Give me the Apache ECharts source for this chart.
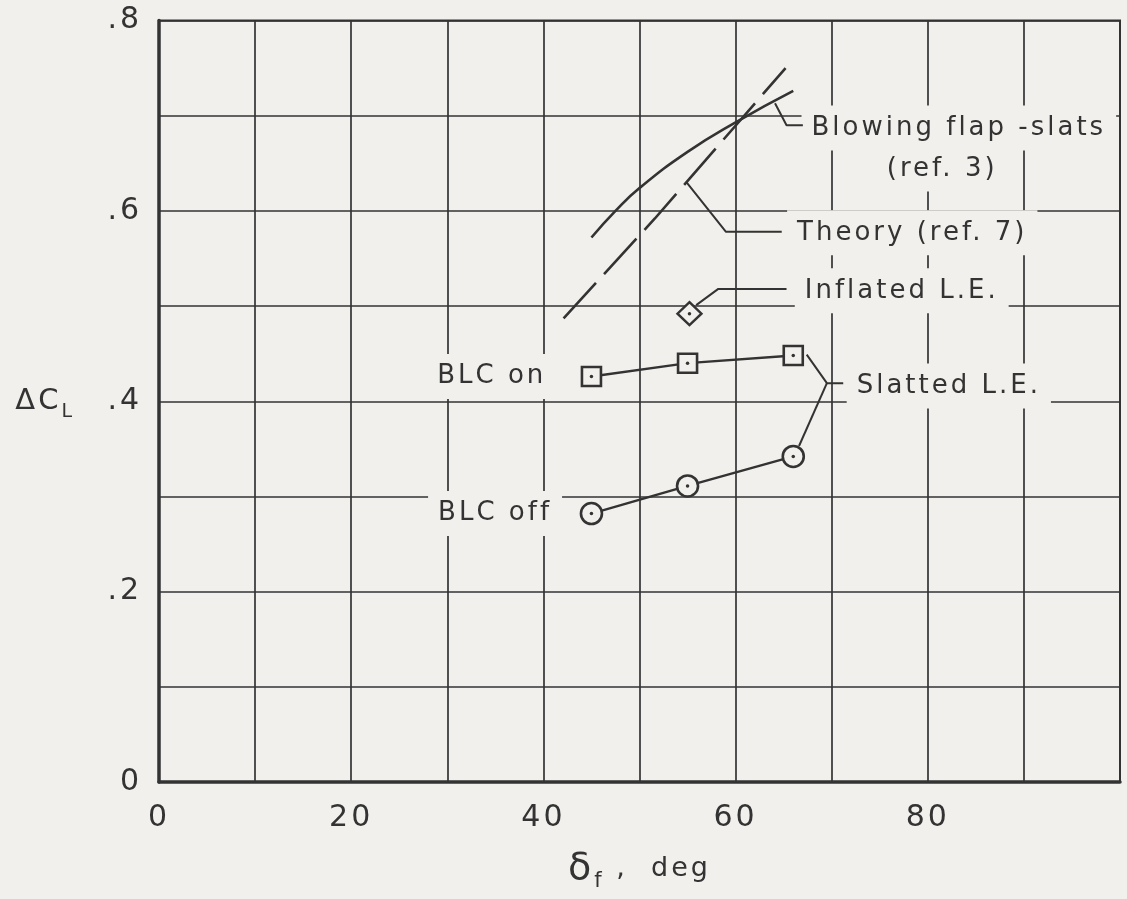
<!DOCTYPE html>
<html>
<head>
<meta charset="utf-8">
<script src="https://cdn.jsdelivr.net/npm/echarts@6/dist/echarts.min.js"></script>
<style>
html,body{margin:0;padding:0;background:#f2f0ed;}
#c{width:1127px;height:899px;}
</style>
</head>
<body>
<div id="c"></div>
<script>
// wide lettering like the original drafting font
(function(){
  var P = CanvasRenderingContext2D.prototype;
  var f = P.fillText, m = P.measureText;
  var LS = '3px';
  P.fillText = function(){ try{ this.letterSpacing = LS; }catch(e){} return f.apply(this, arguments); };
  P.measureText = function(){ try{ this.letterSpacing = LS; }catch(e){} return m.apply(this, arguments); };
})();

// ---- data ----
var xTickValues = [0, 20, 40, 60, 80];
var xTickLabels = ['0', '20', '40', '60', '80'];
var yTickValues = [0, 0.2, 0.4, 0.6, 0.8];
var yTickLabels = ['0', '.2', '.4', '.6', '.8'];

var blcOnX  = [45, 55, 66];
var blcOnY  = [0.426, 0.440, 0.448];
var blcOffX = [45, 55, 66];
var blcOffY = [0.282, 0.311, 0.342];
var inflatedX = [55.2];
var inflatedY = [0.492];

var blowingX = [45.0, 47.5, 50.0, 55.0, 60.0, 66.0];
var blowingY = [0.572, 0.600, 0.624, 0.662, 0.693, 0.726];
var theoryX  = [42.1, 51.6, 65.2];
var theoryY  = [0.487, 0.592, 0.750];

// leader lines (data coordinates)
var blowingLeader  = [[64.1, 0.713], [65.3, 0.690], [67.0, 0.690]];
var theoryLeader   = [[54.9, 0.630], [59.0, 0.578], [64.8, 0.578]];
var inflatedLeader = [[55.9, 0.501], [58.2, 0.518], [65.3, 0.518]];
var slattedLeaderA = [[67.4, 0.449], [69.5, 0.419], [71.2, 0.419]];
var slattedLeaderB = [[66.6, 0.353], [69.5, 0.419]];

// annotation texts and anchors (data coordinates)
var annoText  = ['Blowing flap -slats', '(ref. 3)', 'Theory (ref. 7)', 'Inflated L.E.', 'Slatted L.E.', 'BLC on', 'BLC off'];
var annoX     = [67.9, 81.5, 66.4, 67.2, 72.6, 40.3, 40.9];
var annoY     = [0.687, 0.644, 0.577, 0.516, 0.416, 0.426, 0.282];
var annoAlign = ['left', 'center', 'left', 'left', 'left', 'right', 'right'];

// ---- chart ----
var INK = '#333333';
var BG = '#f2f0ed';
var FONT = 'DejaVu Sans';

function pts(xs, ys){ return xs.map(function(x, i){ return [x, ys[i]]; }); }

var markerPts = pts(blcOnX, blcOnY).concat(pts(blcOffX, blcOffY), pts(inflatedX, inflatedY));

var PADH = 10, PADV = 8;
var annoData = annoText.map(function(t, i){
  var al = annoAlign[i];
  var off = al === 'left' ? -PADH : (al === 'right' ? PADH : 0);
  return {
    name: t,
    value: [annoX[i], annoY[i]],
    label: { align: al, offset: [off, 0] }
  };
});

function leader(data){
  return {
    type: 'line', data: data, symbol: 'none', silent: true, z: 5,
    lineStyle: { color: INK, width: 2 }
  };
}

var chart = echarts.init(document.getElementById('c'), null, { renderer: 'canvas' });
chart.setOption({
  animation: false,
  backgroundColor: BG,
  textStyle: { fontFamily: FONT, color: INK },
  grid: { left: 159, right: 7, top: 20.5, bottom: 116, show: true, borderColor: INK, borderWidth: 2, backgroundColor: 'transparent' },
  xAxis: {
    type: 'value', min: 0, max: 100, interval: 10,
    axisLine: { show: true, onZero: false, lineStyle: { color: INK, width: 3.5 } },
    axisTick: { show: false },
    splitLine: { show: true, lineStyle: { color: INK, width: 1.7 } },
    axisLabel: {
      fontSize: 30, color: INK, margin: 20, fontFamily: FONT,
      formatter: function(v){ var i = xTickValues.indexOf(Math.round(v)); return (i >= 0 && Math.abs(v - xTickValues[i]) < 1e-6) ? xTickLabels[i] : ''; }
    },
    name: '{d|δ}{s|f}{t| ,  deg}',
    nameLocation: 'middle', nameGap: 62,
    nameTextStyle: {
      rich: {
        d: { fontSize: 38, lineHeight: 50, fontFamily: FONT, color: INK },
        s: { fontSize: 21, lineHeight: 20, verticalAlign: 'bottom', fontFamily: FONT, color: INK },
        t: { fontSize: 27, lineHeight: 50, fontFamily: FONT, color: INK }
      }
    }
  },
  yAxis: {
    type: 'value', min: 0, max: 0.8, interval: 0.1,
    axisLine: { show: true, onZero: false, lineStyle: { color: INK, width: 3.5 } },
    axisTick: { show: false },
    splitLine: { show: true, lineStyle: { color: INK, width: 1.7 } },
    axisLabel: {
      fontSize: 30, color: INK, margin: 17, fontFamily: FONT,
      formatter: function(v){
        for (var i = 0; i < yTickValues.length; i++) { if (Math.abs(v - yTickValues[i]) < 1e-6) return yTickLabels[i]; }
        return '';
      }
    },
    name: '{d|ΔC}{s|L}',
    nameLocation: 'middle', nameRotate: 0, nameGap: 84,
    nameTextStyle: {
      rich: {
        d: { fontSize: 29, lineHeight: 44, fontFamily: FONT, color: INK },
        s: { fontSize: 19, lineHeight: 20, verticalAlign: 'bottom', fontFamily: FONT, color: INK }
      }
    }
  },
  series: [
    {
      name: 'Blowing flap-slats (ref. 3)', type: 'line', data: pts(blowingX, blowingY),
      smooth: 0.5, symbol: 'none', z: 4, lineStyle: { color: INK, width: 2.6 }
    },
    {
      name: 'Theory (ref. 7)', type: 'line', data: pts(theoryX, theoryY),
      symbol: 'none', z: 4, lineStyle: { color: INK, width: 2.6, type: [48, 12] }
    },
    {
      name: 'Slatted L.E., BLC on', type: 'line', data: pts(blcOnX, blcOnY),
      symbol: 'rect', symbolSize: 19, z: 4,
      lineStyle: { color: INK, width: 2.4 },
      itemStyle: { color: BG, borderColor: INK, borderWidth: 2.6 }
    },
    {
      name: 'Slatted L.E., BLC off', type: 'line', data: pts(blcOffX, blcOffY),
      symbol: 'circle', symbolSize: 21, z: 4,
      lineStyle: { color: INK, width: 2.4 },
      itemStyle: { color: BG, borderColor: INK, borderWidth: 2.6 }
    },
    {
      name: 'Inflated L.E.', type: 'scatter', data: pts(inflatedX, inflatedY),
      symbol: 'diamond', symbolSize: [24, 23], z: 4,
      itemStyle: { color: BG, borderColor: INK, borderWidth: 2.4, opacity: 1 }
    },
    {
      name: 'centre dots', type: 'scatter', data: markerPts, silent: true,
      symbol: 'circle', symbolSize: 3.5, z: 6, itemStyle: { color: INK, opacity: 1 }
    },
    leader(blowingLeader),
    leader(theoryLeader),
    leader(inflatedLeader),
    leader(slattedLeaderA),
    leader(slattedLeaderB),
    {
      name: 'labels', type: 'scatter', data: annoData, silent: true,
      symbolSize: 1, z: 3, itemStyle: { color: 'rgba(0,0,0,0)', opacity: 1 },
      label: {
        show: true, position: 'inside', formatter: '{b}', verticalAlign: 'middle',
        fontSize: 26, fontFamily: FONT, color: INK,
        backgroundColor: BG, padding: [PADV, PADH]
      }
    }
  ]
});
</script>
</body>
</html>
